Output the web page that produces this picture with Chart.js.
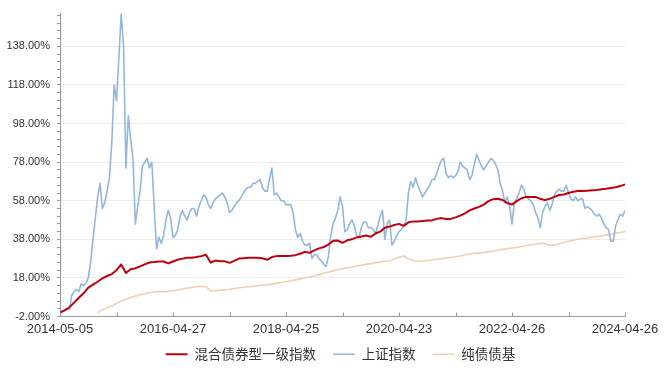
<!DOCTYPE html>
<html>
<head>
<meta charset="utf-8">
<script src="https://cdn.jsdelivr.net/npm/chart.js@4/dist/chart.umd.min.js"></script>
<style>
html,body{margin:0;padding:0;background:#fff;}
canvas{display:block;}
</style>
</head>
<body>
<canvas id="c" width="670" height="373"></canvas>
<script>
// ---- data (x in months since 2014-05-05) ----
const seriesNames = ['混合债券型一级指数', '上证指数', '纯债债基'];
const xTickLabels = ['2014-05-05', '2016-04-27', '2018-04-25', '2020-04-23', '2022-04-26', '2024-04-26'];
const yMajorTicks = [-2, 18, 38, 58, 78, 98, 118, 138];
const monthStep = 1;     // red & beige sampled monthly
const halfStep = 0.5;    // blue sampled half-monthly

const mixedBond = [
  0,1.2,2.8,5.2,7.7,10,13,14.5,16,17.8,
  19,20,22,25,20.5,22.5,23,24,25,26,
  26.2,26.5,26.5,25.5,26.5,27.4,28,28.4,28.5,28.8,
  29.3,30,26,27,26.6,26.6,25.8,26.8,28,28.2,
  28.4,28.4,28.4,28.2,27.4,28.8,29.3,29.4,29.4,29.5,
  29.8,30.5,31.5,31,32.3,33.3,34,35.3,37.2,37.4,
  36.2,37.5,38,39,39.5,40,39.3,41,42,44,
  44.6,45.4,46,45,46.8,47.3,47.2,47.5,47.8,47.8,
  48.6,49,48.5,48.6,49.4,50.3,51.5,53,54,54.8,
  56,57.8,58.8,59,58.4,56.8,56,57.8,59.3,60,
  60,60,59,58.3,59,60,61,61.2,62,62.7,
  63,63,63.2,63.4,63.6,64,64.2,64.6,65,65.6,
  66.5
];

const shanghai = [
  0,1,1.5,2,1.5,9,11,12,11,15,
  14,15,18,26,38,49,60,67,54,57,
  63,70,88,118,110,132,155,138,75,102,
  90,80,46,55,63,76,78,80,75,78,
  55,33,39,36,40,48,53,49,39,40,
  43,50,53,50,48,52,54,54,50,55,
  58,61,60,56,54,57,59,60,61,62,
  60,57,52,53,55,57,58,60,62,64,
  65,65,67,67,68,69,65,63,63,69,
  75,61,62,60,58,58,56,56,56,52,
  43,39,41,37,35,35,36,28,30,30,
  28,27,25,24,29,40,46,49,53,60,
  55,42,43,46,48,45,40,39,44,47,
  47,44,44,43,41,45,50,53,38,46,
  48,35,37,40,42,43,45,48,62,68,
  65,70,66,63,60,62,64,66,69,69,
  72,76,79,80,72,70,71,70,71,73,
  78,76,75,74,69,71,77,82,79,76,
  74,76,78,80,79,77,74,67,63,57,
  60,55,46,57,59,62,66,64,60,59,
  58,56,52,49,44,52,55,57,53,56,
  61,63,64,63,63,66,62,59,58,60,
  58,59,59,54,55,54,53,51,50,51,
  49,46,44,43,37,37,45,48,51,50,
  53
];

const pureBond = [
  null,null,null,null,null,null,null,null,0,1.6,
  2.5,3.4,4.8,5.9,7,7.9,8.6,9.3,9.8,10.4,
  10.7,11,10.8,11,11.3,11.8,12.3,12.8,13.1,13.4,
  13.5,13.6,11.2,11.4,11.6,11.8,12,12.5,12.9,13.2,
  13.4,13.7,14,14.2,14.4,14.8,15.2,15.6,16,16.5,
  17,17.5,18,18.5,19,19.7,20.4,21,21.6,22.2,
  22.8,23.2,23.7,24.2,24.6,25,25.4,25.8,26.2,26.6,
  26.8,27.8,28.8,29.4,27.8,27,26.8,26.8,27,27.3,
  27.7,28,28.3,28.6,29,29.4,30,30.5,30.8,31,
  31.2,31.5,31.8,32.3,32.8,33.2,33.5,33.8,34.3,34.7,
  35.2,35.6,35.8,36,34.8,35,35.7,36.4,37,37.5,
  38,38.4,38.7,39.1,39.5,39.8,40.2,40.6,41.1,41.5,
  42
];

const toPoints = (arr, step) => arr.map((v, i) => ({ x: i * step, y: v }));

const innerXTicks = {
  id: 'innerXTicks',
  afterDraw(chart) {
    const { ctx, chartArea } = chart;
    const x = chart.scales.x;
    ctx.save();
    ctx.strokeStyle = '#9a9a9a';
    ctx.lineWidth = 1;
    x.ticks.forEach(t => {
      const px = Math.round(x.getPixelForValue(t.value)) + 0.5;
      ctx.beginPath();
      ctx.moveTo(px, chartArea.bottom);
      ctx.lineTo(px, chartArea.bottom - 4);
      ctx.stroke();
    });
    ctx.restore();
  }
};

// nudge legend box: up into free space and centred like the original
const legendPlacement = {
  id: 'legendPlacement',
  afterLayout(chart) {
    const lg = chart.legend;
    if (!lg) return;
    lg.top -= 10; lg.bottom -= 10;
    lg.left += 28; lg.right += 28;
  }
};

const isMajor = v => yMajorTicks.includes(Math.round(v * 100) / 100);

new Chart(document.getElementById('c'), {
  type: 'line',
  data: {
    datasets: [
      { label: seriesNames[0], data: toPoints(mixedBond, monthStep), borderColor: '#C00010', backgroundColor: '#C00010', borderWidth: 2, order: 0 },
      { label: seriesNames[1], data: toPoints(shanghai, halfStep), borderColor: '#93B7DC', backgroundColor: '#93B7DC', borderWidth: 1.6, order: 1 },
      { label: seriesNames[2], data: toPoints(pureBond, monthStep), borderColor: '#F0D0B2', backgroundColor: '#F0D0B2', borderWidth: 1.6, order: 2 }
    ]
  },
  options: {
    responsive: false,
    animation: false,
    events: [],
    elements: { point: { radius: 0 }, line: { tension: 0, borderJoinStyle: 'round' } },
    layout: { padding: { left: 0, right: 45, top: 13, bottom: -8 } },
    scales: {
      x: {
        type: 'linear',
        min: 0, max: 120,
        afterBuildTicks: s => { s.ticks = [0,12,24,36,48,60,72,84,96,108,120].map(v => ({ value: v })); },
        afterFit: s => { s.height = 24; },
        grid: { display: false, drawTicks: false },
        border: { display: true, color: '#9a9a9a', width: 1 },
        ticks: {
          autoSkip: false, maxRotation: 0, padding: 5,
          color: '#333',
          font: { family: '"Liberation Sans", Arial, sans-serif', size: 13 },
          callback: v => (v % 24 === 0 ? xTickLabels[v / 24] : '')
        }
      },
      y: {
        min: -2, max: 155,
        afterBuildTicks: s => {
          const t = [];
          for (let k = 0; k < yMajorTicks.length; k++) {
            const a = yMajorTicks[k];
            for (let m = 0; m < 5; m++) t.push(a + m * 4);
          }
          let last = yMajorTicks[yMajorTicks.length - 1] + 20;
          for (let v = last; v <= 155; v += 4) t.push(v);
          s.ticks = t.map(v => ({ value: v }));
        },
        afterFit: s => { s.width = 60; },
        grid: {
          drawOnChartArea: true, drawTicks: true, tickLength: 3,
          color: c => (c.tick && isMajor(c.tick.value) && c.tick.value !== -2 ? '#ececec' : 'rgba(0,0,0,0)'),
          tickColor: '#9a9a9a'
        },
        border: { display: true, color: '#9a9a9a', width: 1 },
        ticks: {
          autoSkip: false, padding: 7,
          color: '#333',
          font: { family: '"Liberation Sans", Arial, sans-serif', size: 11 },
          callback: v => (isMajor(v) ? v.toFixed(2) + '%' : '')
        }
      }
    },
    plugins: {
      tooltip: { enabled: false },
      legend: {
        position: 'bottom',
        labels: {
          usePointStyle: true, pointStyle: 'line', pointStyleWidth: 22,
          boxHeight: 13, padding: 17,
          color: '#333',
          font: { family: '"Noto Sans CJK SC", sans-serif', size: 13.5 }
        }
      }
    }
  },
  plugins: [innerXTicks, legendPlacement]
});
</script>
</body>
</html>
